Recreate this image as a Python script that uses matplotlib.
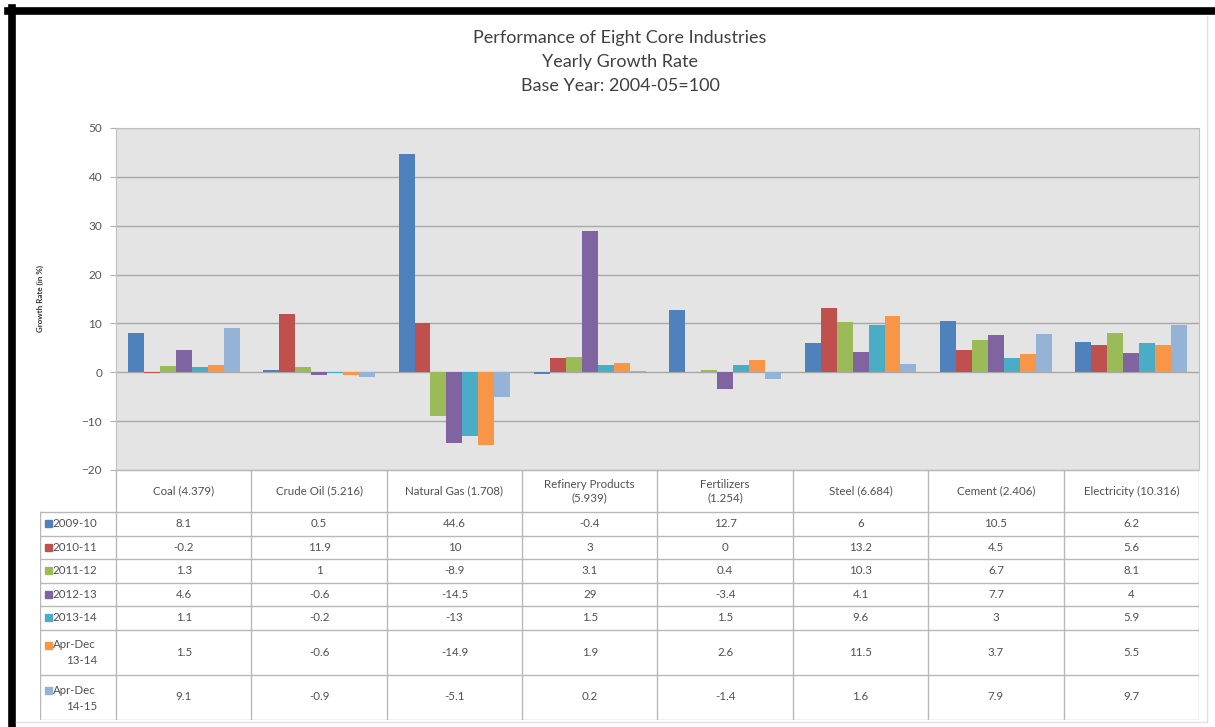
import numpy as np
import matplotlib.pyplot as plt
from matplotlib.patches import Rectangle
from matplotlib.lines import Line2D

plt.rcParams['font.family'] = ['Lato', 'DejaVu Sans']

# datos
categorias = ['Coal (4.379)', 'Crude Oil (5.216)', 'Natural Gas (1.708)',
              'Refinery Products\n(5.939)', 'Fertilizers\n(1.254)', 'Steel (6.684)',
              'Cement (2.406)', 'Electricity (10.316)']
series = ['2009-10', '2010-11', '2011-12', '2012-13', '2013-14',
          'Apr-Dec\n13-14', 'Apr-Dec\n14-15']
v_2009_10 = [8.1, 0.5, 44.6, -0.4, 12.7, 6, 10.5, 6.2]
v_2010_11 = [-0.2, 11.9, 10, 3, 0, 13.2, 4.5, 5.6]
v_2011_12 = [1.3, 1, -8.9, 3.1, 0.4, 10.3, 6.7, 8.1]
v_2012_13 = [4.6, -0.6, -14.5, 29, -3.4, 4.1, 7.7, 4]
v_2013_14 = [1.1, -0.2, -13, 1.5, 1.5, 9.6, 3, 5.9]
v_apr_dec_13_14 = [1.5, -0.6, -14.9, 1.9, 2.6, 11.5, 3.7, 5.5]
v_apr_dec_14_15 = [9.1, -0.9, -5.1, 0.2, -1.4, 1.6, 7.9, 9.7]
valores = [v_2009_10, v_2010_11, v_2011_12, v_2012_13, v_2013_14,
           v_apr_dec_13_14, v_apr_dec_14_15]
colores = ['#4F81BD', '#C0504D', '#9BBB59', '#8064A2', '#4BACC6', '#F79646', '#95B3D7']

W, H = 1215, 727
fig = plt.figure(figsize=(W / 100, H / 100), dpi=100)
fig.patch.set_facecolor('white')

def px(x0, y0, x1, y1):
    # caja en pixeles -> fracciones de figura
    return [x0 / W, 1 - y1 / H, (x1 - x0) / W, (y1 - y0) / H]

# grafica de barras
ax = fig.add_axes(px(116, 128, 1199, 470))
ax.set_facecolor('#E4E4E4')
x = np.arange(len(categorias))
ancho = 0.118
for j, (vals, col) in enumerate(zip(valores, colores)):
    ax.bar(x + (j - 3) * ancho, vals, ancho, color=col, zorder=3)
ax.set_xlim(-0.5, len(categorias) - 0.5)
ax.set_ylim(-20, 50)
ax.set_yticks(range(-20, 51, 10))
ax.set_xticks([])
ax.yaxis.grid(True, color='#A8A8A8', linewidth=1, zorder=1)
ax.tick_params(axis='y', colors='#B0B0B0', labelcolor='#555555', labelsize=8.5,
               length=4, pad=6)
for s in ax.spines.values():
    s.set_color('#C0C0C0')
ax.set_ylabel('Growth Rate (in %)', fontsize=5.8, fontweight='bold', color='#333333',
              labelpad=27)

# tabla de datos
filas_h = [42, 23.5, 23.5, 23.5, 23.5, 23.5, 45, 45]
tax = fig.add_axes(px(40, 470, 1199, 470 + sum(filas_h)))
col_lab = 76 / 135.4
tax.set_xlim(-0.5 - col_lab, len(categorias) - 0.5)
tax.set_ylim(sum(filas_h), 0)
tax.axis('off')
linea = dict(color='#B8B8B8', linewidth=1)
bordes = np.concatenate([[0], np.cumsum(filas_h)])
# lineas horizontales
tax.plot([-0.5, len(categorias) - 0.5], [0, 0], **linea)
for yb in bordes[1:]:
    tax.plot([-0.5 - col_lab, len(categorias) - 0.5], [yb, yb], **linea)
# lineas verticales
tax.plot([-0.5 - col_lab] * 2, [bordes[1], bordes[-1]], **linea)
for i in range(len(categorias) + 1):
    tax.plot([i - 0.5] * 2, [0, bordes[-1]], **linea)
# encabezados
for i, c in enumerate(categorias):
    tax.text(i, filas_h[0] / 2, c, ha='center', va='center', fontsize=8.3,
             color='#505050', linespacing=1.2)
# filas
for j, (s, vals, col) in enumerate(zip(series, valores, colores)):
    ym = (bordes[j + 1] + bordes[j + 2]) / 2
    if '\n' in s:
        l1, l2 = s.split('\n')
        tax.text(-0.5 - col_lab + 0.095, ym - 7, l1, ha='left', va='center',
                 fontsize=8.3, color='#505050')
        tax.text(-0.5 - col_lab / 2 + 0.03, ym + 9, l2, ha='center', va='center',
                 fontsize=8.3, color='#505050')
        ys = ym - 10
    else:
        tax.text(-0.5 - col_lab + 0.095, ym, s, ha='left', va='center',
                 fontsize=8.3, color='#505050')
        ys = ym - 3.5
    tax.add_patch(Rectangle((-0.5 - col_lab + 0.035, ys), 0.05, 7, color=col))
    for i, v in enumerate(vals):
        tax.text(i, ym, f'{v:g}', ha='center', va='center', fontsize=8.3,
                 color='#505050')

# titulo
fig.text(620 / W, 1 - 38 / H, 'Performance of Eight Core Industries',
         ha='center', va='center', fontsize=13, color='#404040')
fig.text(620 / W, 1 - 62 / H, 'Yearly Growth Rate',
         ha='center', va='center', fontsize=13, color='#404040')
fig.text(620 / W, 1 - 86 / H, 'Base Year: 2004-05=100',
         ha='center', va='center', fontsize=13, color='#404040')

# marco
fig.add_artist(Line2D([8 / W, 1], [1 - 10.5 / H] * 2, color='black', linewidth=5.5))
fig.add_artist(Line2D([11.5 / W] * 2, [0, 1 - 8 / H], color='black', linewidth=5.5))
fig.add_artist(Line2D([1207 / W] * 2, [1 - 16 / H, 1 - 722 / H], color='#E0E0E0', linewidth=1))
fig.add_artist(Line2D([16 / W, 1207 / W], [1 - 722 / H] * 2, color='#E0E0E0', linewidth=1))

plt.savefig('out.png', dpi=100)
